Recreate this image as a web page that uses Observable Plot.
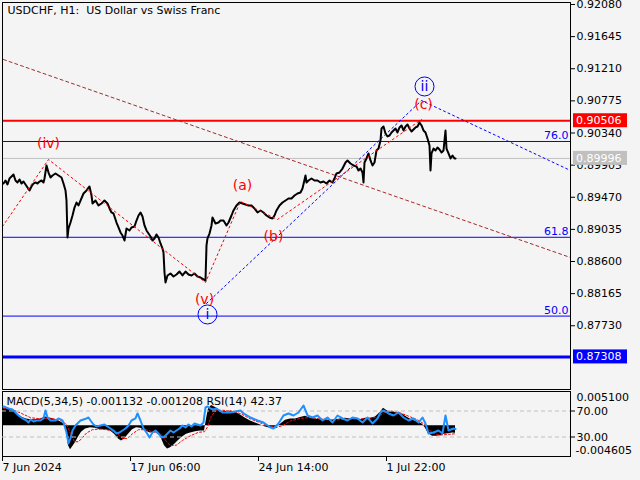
<!DOCTYPE html>
<html><head><meta charset="utf-8">
<script src="https://cdn.jsdelivr.net/npm/d3@7"></script>
<script src="https://cdn.jsdelivr.net/npm/@observablehq/plot@0.6"></script>
<style>
body{margin:0;background:#f4f4f4;}
#wrap{position:relative;width:640px;height:480px;background:#f4f4f4;overflow:hidden;font-family:"DejaVu Sans";}
#wrap svg{position:absolute;left:0;overflow:visible;}
</style></head><body><div id="wrap"></div>
<script>
// ---------- data ----------
const chartTitle = "USDCHF, H1:  US Dollar vs Swiss Franc";
const priceTicks = [0.92080,0.91645,0.91210,0.90775,0.90340,0.89905,0.89470,0.89035,0.88600,0.88165,0.87730];
const timeTickBars = [0,128,256,384];
const timeTickLabels = ["7 Jun 2024","17 Jun 06:00","24 Jun 14:00","1 Jul 22:00"];

const priceBars = [
 1,3,5,7,9,11,13,15,17,19,
 21,23,25,27,29,31,33,35,37,39,
 41,42,44,46,48,50,53,56,59,61,
 63,64,65,66,68,70,72,74,76,78,
 81,84,87,89,90,93,96,99,102,105,
 107,109,111,114,116,118,120,122,124,127,
 129,132,134,136,138,140,142,144,146,148,
 150,152,154,156,158,160,161,162,163,165,
 168,171,174,177,180,183,186,189,192,195,
 198,201,203,204,205,207,209,210,213,216,
 218,221,224,226,229,231,234,237,240,243,
 246,249,252,255,258,261,264,267,270,272,
 274,277,280,283,286,289,292,295,298,300,
 303,304,306,309,312,315,318,321,324,327,
 330,332,334,337,340,343,345,348,351,354,
 356,358,360,361,362,364,366,368,370,372,
 374,376,378,379,381,383,385,387,389,391,
 393,395,397,399,401,403,405,407,409,411,
 413,415,417,419,421,423,425,427,428,429,
 431,433,435,437,439,441,443,444,446,448,
 450,452,453];
const priceValues = [
 0.89656,0.89697,0.89643,0.89724,0.89751,0.89778,0.89697,0.89670,0.89711,0.89656,
 0.89683,0.89643,0.89602,0.89562,0.89616,0.89656,0.89670,0.89656,0.89683,0.89697,
 0.89670,0.89724,0.89900,0.89805,0.89738,0.89765,0.89792,0.89765,0.89738,0.89656,
 0.89562,0.89426,0.88925,0.89047,0.89128,0.89223,0.89331,0.89399,0.89359,0.89426,
 0.89521,0.89562,0.89616,0.89494,0.89386,0.89426,0.89359,0.89386,0.89426,0.89386,
 0.89318,0.89264,0.89250,0.89128,0.89061,0.88993,0.88952,0.88885,0.89047,0.89020,
 0.89061,0.89074,0.89155,0.89223,0.89264,0.89210,0.89088,0.89020,0.88979,0.88939,
 0.88885,0.88912,0.88966,0.88925,0.88844,0.88776,0.88722,0.88451,0.88316,0.88411,
 0.88438,0.88397,0.88424,0.88465,0.88411,0.88465,0.88424,0.88411,0.88438,0.88397,
 0.88384,0.88357,0.88343,0.88817,0.88912,0.88979,0.89088,0.89196,0.89115,0.89128,
 0.89155,0.89155,0.89088,0.89128,0.89223,0.89291,0.89359,0.89399,0.89386,0.89372,
 0.89359,0.89359,0.89318,0.89264,0.89291,0.89264,0.89223,0.89196,0.89182,0.89223,
 0.89291,0.89359,0.89399,0.89426,0.89453,0.89453,0.89494,0.89521,0.89535,0.89589,
 0.89765,0.89670,0.89697,0.89724,0.89697,0.89697,0.89670,0.89683,0.89656,0.89697,
 0.89670,0.89724,0.89792,0.89805,0.89859,0.89941,0.89968,0.89927,0.89900,0.89887,
 0.89832,0.89859,0.89805,0.89670,0.89941,0.89995,0.90063,0.89968,0.89900,0.89941,
 0.90103,0.90130,0.90239,0.90401,0.90428,0.90333,0.90293,0.90306,0.90347,0.90374,
 0.90401,0.90347,0.90415,0.90442,0.90374,0.90428,0.90455,0.90401,0.90360,0.90388,
 0.90415,0.90428,0.90482,0.90442,0.90374,0.90347,0.90266,0.90171,0.89832,0.90063,
 0.90130,0.90103,0.90144,0.90117,0.90076,0.90103,0.90374,0.90130,0.90063,0.89995,
 0.90035,0.89995,0.89996];

// horizontal levels
const resistanceLevel = 0.90506;
const bidLevel = 0.89996;
const targetLevel = 0.87308;
const fibLabels = ["76.0","61.8","50.0"];
const fibLevels = [0.90225,0.88928,0.87861];
const boxLevels = [0.90506,0.89996,0.87308];

// trend / wave lines (bar, price)
const trendBars = [1,568];
const trendPrices = [0.91335,0.88654];
const redWaveBars = [0,46,203,238,275,419];
const redWavePrices = [0.89074,0.89981,0.88316,0.89413,0.89169,0.90523];
const blueWaveBars = [204,419,568];
const blueWavePrices = [0.88032,0.90780,0.89832];

// wave labels
const waveLabels = ["(iv)","(v)","(a)","(b)","(c)"];
const waveLabelBars = [46,202,240,271,421];
const waveLabelPrices = [0.90191,0.88086,0.89629,0.88939,0.90726];
const circleLabels = ["ii","i"];
const circleLabelBars = [422,205];
const circleLabelPrices = [0.90970,0.87883];

// indicator window
const macdMax = 0.005100, macdMin = -0.004605;
const macdMain = -0.001132, macdSignal = -0.001208, rsiLast = 42.37;
const rsiLevels = [70,30];
const macdBars = [0,4,8,12,16,20,24,28,33,38,43,48,53,58,62,64,66,68,70,73,76,79,83,88,93,98,103,108,112,116,119,122,126,130,134,138,143,148,153,158,162,165,168,172,176,180,184,188,193,198,202,204,206,209,213,218,223,228,233,238,243,248,253,258,263,268,273,278,283,288,293,298,303,308,313,318,323,328,333,338,343,348,353,358,363,368,373,378,381,385,390,395,400,405,410,415,420,423,426,430,434,438,442,446,450,453];
const macdValues = [0.0026,0.0026,0.0024,0.0021,0.0016,0.0012,0.0010,0.0009,0.0009,0.0010,0.0013,0.0011,0.0009,0.0006,0.0002,-0.0010,-0.0030,-0.0036,-0.0032,-0.0025,-0.0017,-0.0010,-0.0005,-0.0003,-0.0004,-0.0006,-0.0006,-0.0008,-0.0013,-0.0020,-0.0023,-0.0020,-0.0013,-0.0006,-0.0003,-0.0004,-0.0008,-0.0011,-0.0010,-0.0016,-0.0030,-0.0035,-0.0033,-0.0028,-0.0022,-0.0017,-0.0013,-0.0011,-0.0009,-0.0008,-0.0008,0.0010,0.0025,0.0030,0.0027,0.0022,0.0021,0.0022,0.0020,0.0016,0.0011,0.0007,0.0004,0.0001,-0.0002,-0.0004,-0.0003,0.0002,0.0008,0.0010,0.0010,0.0012,0.0014,0.0011,0.0010,0.0009,0.0008,0.0008,0.0009,0.0010,0.0011,0.0010,0.0010,0.0009,0.0011,0.0011,0.0013,0.0020,0.0026,0.0022,0.0020,0.0019,0.0017,0.0012,0.0008,0.0006,0.0002,-0.0004,-0.0012,-0.0016,-0.0016,-0.0015,-0.0013,-0.0012,-0.0011,-0.001132];
const signalBars = [0,8,18,28,38,48,58,64,68,72,76,80,84,90,98,108,114,120,125,130,136,143,150,158,163,168,174,180,188,196,202,205,209,214,220,228,238,248,258,266,273,280,288,298,308,318,328,338,348,358,368,376,382,388,398,408,416,422,426,432,438,446,453];
const signalValues = [0.0026,0.0025,0.0019,0.0012,0.0010,0.0011,0.0008,0.0002,-0.0012,-0.0024,-0.0024,-0.0018,-0.0011,-0.0006,-0.0005,-0.0007,-0.0011,-0.0019,-0.0019,-0.0012,-0.0006,-0.0006,-0.0009,-0.0012,-0.0022,-0.0030,-0.0029,-0.0022,-0.0015,-0.0010,-0.0009,-0.0002,0.0015,0.0023,0.0023,0.0022,0.0018,0.0010,0.0004,0.0000,-0.0003,0.0000,0.0007,0.0011,0.0012,0.0010,0.0008,0.0009,0.0010,0.0010,0.0011,0.0013,0.0020,0.0022,0.0019,0.0013,0.0008,0.0002,-0.0006,-0.0012,-0.0014,-0.0013,-0.001208];
const rsiBars = [1,6,10,13,16,20,24,26,28,31,34,38,41,43,45,48,53,56,60,62,64,66,68,70,73,76,78,81,84,86,88,91,94,98,102,105,108,111,114,117,120,123,126,129,133,135,138,141,144,147,150,153,156,159,162,165,168,171,174,177,180,183,186,189,192,195,198,201,203,205,208,211,214,217,220,228,238,241,248,255,261,268,271,276,281,286,291,296,301,305,310,315,320,325,330,335,340,345,350,355,360,365,370,375,378,381,386,391,396,401,406,411,416,420,423,426,431,436,440,443,446,451,453];
const rsiValues = [76.9,73.8,72.3,67.7,63.1,58.5,55.4,52.3,56.9,53.8,55.4,55.4,58.5,70.8,60.0,55.4,55.4,58.5,55.4,47.7,36.9,20.0,27.7,40.0,47.7,52.3,55.4,56.9,58.5,60.0,55.4,49.2,46.2,47.7,49.2,46.2,43.1,40.0,35.4,36.9,40.0,43.1,47.7,55.4,58.5,66.2,55.4,43.1,36.9,29.2,36.9,40.0,35.4,29.2,30.8,35.4,40.0,36.9,40.0,43.1,47.7,44.6,49.2,46.2,50.8,49.2,47.7,52.3,75.4,76.9,73.8,72.3,73.8,70.8,67.7,67.7,70.8,66.2,60.0,55.4,52.3,44.6,43.1,50.8,63.1,66.2,63.1,67.7,78.5,63.1,60.0,63.1,55.4,60.0,52.3,63.1,58.5,55.4,60.0,58.5,52.3,60.0,50.8,58.5,67.7,70.8,66.2,63.1,67.7,60.0,55.4,58.5,52.3,60.0,50.8,35.4,36.9,40.0,35.4,63.1,40.0,43.1,42.37];

// ---------- helpers ----------
const zipXY = (xs, ys) => xs.map((x, i) => ({x, y: ys[i]})).filter(d => d.y !== undefined);
const priceData = zipXY(priceBars, priceValues);
const trendData = zipXY(trendBars, trendPrices);
const redWave = zipXY(redWaveBars, redWavePrices);
const blueWave = zipXY(blueWaveBars, blueWavePrices);
const waveLabelData = waveLabels.map((t, i) => ({t, x: waveLabelBars[i], y: waveLabelPrices[i]}));
const circleData = circleLabels.map((t, i) => ({t, x: circleLabelBars[i], y: circleLabelPrices[i]}));
const macdData = zipXY(macdBars, macdValues);
const signalData = zipXY(signalBars, signalValues);
const rsiData = zipXY(rsiBars, rsiValues);

const FONT = "DejaVu Sans";
const baseStyle = {background: "transparent", fontFamily: FONT, fontSize: "11px", color: "black", overflow: "visible"};
const xDomain = [0, 568];

// ---------- main window ----------
const main = Plot.plot({
  width: 640, height: 390,
  marginLeft: 2, marginRight: 70, marginTop: 2, marginBottom: 1,
  style: baseStyle,
  x: {domain: xDomain, axis: null, label: null},
  y: {domain: [0.86867, 0.92107], label: null},
  marks: [
    Plot.ruleY([bidLevel], {stroke: "#c0c0c0", strokeWidth: 1}),
    Plot.ruleY(fibLevels, {stroke: "#0000ff", strokeWidth: 1}),
    Plot.ruleY([resistanceLevel], {stroke: "#ff0000", strokeWidth: 2}),
    Plot.ruleY([targetLevel], {stroke: "#0000ff", strokeWidth: 3}),
    Plot.text(fibLabels, {y: fibLevels, text: d => d, frameAnchor: "right", textAnchor: "end", lineAnchor: "bottom", dx: -2, dy: -2, fill: "#0000ff", fontSize: 11}),
    Plot.line(trendData, {x: "x", y: "y", stroke: "#a52a2a", strokeWidth: 1, strokeDasharray: "3,3"}),
    Plot.line(priceData, {x: "x", y: "y", stroke: "black", strokeWidth: 2}),
    Plot.line(redWave, {x: "x", y: "y", stroke: "#ff0000", strokeWidth: 1, strokeDasharray: "2,3"}),
    Plot.line(blueWave, {x: "x", y: "y", stroke: "#0000ff", strokeWidth: 1, strokeDasharray: "2,3"}),
    Plot.dot(circleData, {x: "x", y: "y", r: 9.5, stroke: "#0000ff", fill: "none", strokeWidth: 1}),
    Plot.text(circleData, {x: "x", y: "y", text: "t", fill: "#0000ff", fontSize: 14, lineAnchor: "middle"}),
    Plot.text(waveLabelData, {x: "x", y: "y", text: "t", fill: "#ff0000", fontSize: 14, lineAnchor: "middle"}),
    Plot.text([chartTitle], {frameAnchor: "top-left", dx: 5, dy: 4, lineAnchor: "top", textAnchor: "start", fontSize: 11}),
    Plot.axisY({anchor: "right", ticks: priceTicks, tickFormat: d => d.toFixed(5), tickSize: 4, tickPadding: 2, fontSize: 11, label: null}),
    Plot.frame({stroke: "black"})
  ]
});
main.style.top = "0px";

// price boxes on the right axis
const yMain = main.scale("y");
const boxColors = ["#ff0000", "#c0c0c0", "#0000ff"];
const svgMain = d3.select(main);
boxLevels.forEach((v, i) => {
  const y = yMain.apply(v);
  svgMain.append("rect").attr("x", 573).attr("y", y - 7).attr("width", 54).attr("height", 14).attr("fill", boxColors[i]);
  svgMain.append("text").attr("x", 576).attr("y", y).attr("dy", "0.36em")
    .attr("text-anchor", "start")
    .attr("fill", "white").attr("font-family", FONT).attr("font-size", 11).text(v.toFixed(5));
});

// ---------- indicator window ----------
const common = {width: 640, height: 90, marginLeft: 2, marginRight: 70, marginTop: 1, marginBottom: 24, style: baseStyle};
const macdPlot = Plot.plot({
  ...common,
  x: {domain: xDomain, label: null},
  y: {domain: [macdMin, macdMax], axis: null, label: null},
  marks: [
    Plot.areaY(macdData, {x: "x", y: "y", fill: "black"}),
    Plot.line(signalData, {x: "x", y: "y", stroke: "#ff0000", strokeWidth: 1, strokeDasharray: "2,2"}),
    Plot.text([macdMax], {y: d => d, text: d => d.toFixed(6), frameAnchor: "right", textAnchor: "start", dx: 6, dy: 6, fontSize: 11}),
    Plot.text([macdMin], {y: d => d, text: d => d.toFixed(6), frameAnchor: "right", textAnchor: "start", dx: 5, dy: -6, fontSize: 11}),
    Plot.axisX({anchor: "bottom", ticks: timeTickBars, tickFormat: d => timeTickLabels[timeTickBars.indexOf(d)], tickSize: 5, tickPadding: 2, textAnchor: "start", fontSize: 11, label: null}),
    Plot.frame({stroke: "black"})
  ]
});
macdPlot.style.top = "390px";

const caption = `MACD(5,34,5) ${macdMain.toFixed(6)} ${macdSignal.toFixed(6)} RSI(14) ${rsiLast.toFixed(2)}`;
const rsiPlot = Plot.plot({
  ...common,
  x: {domain: xDomain, axis: null, label: null},
  y: {domain: [0, 100], label: null},
  marks: [
    Plot.ruleY(rsiLevels, {stroke: "#c0c0c0", strokeDasharray: "4,3"}),
    Plot.line(rsiData, {x: "x", y: "y", stroke: "#1e90ff", strokeWidth: 2}),
    Plot.axisY({anchor: "right", ticks: rsiLevels, tickFormat: d => d.toFixed(2), tickSize: 4, tickPadding: 2, fontSize: 11, label: null}),
    Plot.text([caption], {frameAnchor: "top-left", dx: 4, dy: 6, lineAnchor: "top", textAnchor: "start", fontSize: 11})
  ]
});
rsiPlot.style.top = "390px";

const wrap = document.getElementById("wrap");
wrap.appendChild(main);
wrap.appendChild(macdPlot);
wrap.appendChild(rsiPlot);
</script>
</body></html>
